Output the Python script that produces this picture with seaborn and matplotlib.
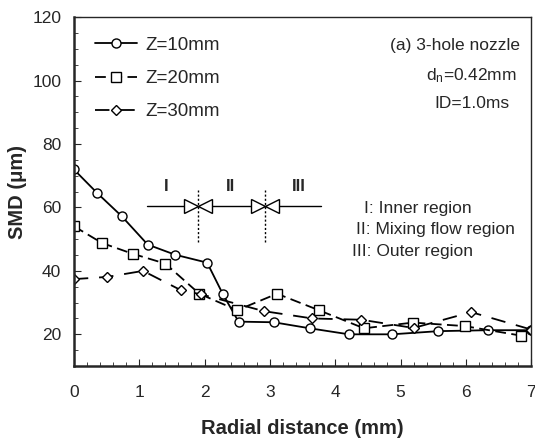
"""
SMD radial profiles for a 3-hole nozzle at three axial distances.
"""

import matplotlib
matplotlib.use("Agg")
import matplotlib.pyplot as plt
from matplotlib.ticker import MultipleLocator
import seaborn as sns

# ---------------------------------------------------------
# Data
# ---------------------------------------------------------
x_z10 = [0.0, 0.36, 0.73, 1.13, 1.55, 2.04, 2.28, 2.52, 3.06, 3.61, 4.21, 4.87, 5.58, 6.34, 7.0]
y_z10 = [72.0, 64.5, 57.3, 48.3, 45.1, 42.6, 32.7, 24.0, 23.8, 21.9, 20.0, 20.0, 21.0, 21.3, 21.3]

x_z20 = [0.0, 0.43, 0.90, 1.40, 1.92, 2.50, 3.11, 3.75, 4.44, 5.19, 5.98, 6.84]
y_z20 = [54.1, 48.8, 45.4, 42.3, 32.8, 27.6, 32.8, 27.6, 21.9, 23.7, 22.6, 19.6]

x_z30 = [0.0, 0.51, 1.06, 1.64, 1.95, 2.91, 3.65, 4.40, 5.20, 6.08, 7.0]
y_z30 = [37.4, 38.1, 40.0, 33.9, 32.6, 27.3, 25.0, 24.6, 22.0, 27.0, 21.5]

labels = ["Z=10mm", "Z=20mm", "Z=30mm"]

# region boundaries and label positions
boundaries = [1.9, 2.92]
region_names = ["I", "II", "III"]
region_label_x = [1.42, 2.40, 3.45]
region_text = ["I: Inner region", "II: Mixing flow region", "III: Outer region"]

# ---------------------------------------------------------
# Style
# ---------------------------------------------------------
sns.set_style("ticks")
plt.rcParams["font.family"] = ["Liberation Sans", "DejaVu Sans"]
plt.rcParams["mathtext.fontset"] = "custom"
plt.rcParams["mathtext.rm"] = "Liberation Sans"
plt.rcParams["mathtext.it"] = "Liberation Sans:italic"

fig = plt.figure(figsize=(5.35, 4.41), dpi=100)
ax = fig.add_axes([0.138, 0.170, 0.855, 0.791])

common = dict(ax=ax, color="black", lw=1.3, mfc="white", mec="black", mew=1.0)
sns.lineplot(x=x_z10, y=y_z10, marker="o", ms=6.5, linestyle="-", label=labels[0], **common)
sns.lineplot(x=x_z20, y=y_z20, marker="s", ms=6.5, linestyle=(0, (6, 3)), label=labels[1], **common)
sns.lineplot(x=x_z30, y=y_z30, marker="D", ms=5, linestyle=(0, (8, 6)), label=labels[2], **common)

# ---------------------------------------------------------
# Region sketch (I | II | III)
# ---------------------------------------------------------
ax.plot([1.12, 3.78], [60.4, 60.4], color="black", lw=1.0, zorder=3)
for b in boundaries:
    ax.plot([b, b], [49, 65.5], color="black", lw=1.0, ls=(0, (1.5, 1.5)), zorder=3)
    ax.plot([b - 0.107], [60.4], marker=">", ms=10, mfc="white", mec="black", mew=1.0, zorder=4)
    ax.plot([b + 0.107], [60.4], marker="<", ms=10, mfc="white", mec="black", mew=1.0, zorder=4)
for name, xr in zip(region_names, region_label_x):
    ax.text(xr, 66.5, name, ha="center", va="center", fontsize=12, fontweight="bold")

region_text_x = [0.635, 0.617, 0.608]
for i, (t, xt) in enumerate(zip(region_text, region_text_x)):
    ax.text(xt, 0.453 - i * 0.063, t, transform=ax.transAxes, fontsize=12.5,
            ha="left", va="center")

# nozzle info
ax.text(0.975, 0.92, "(a) 3-hole nozzle", transform=ax.transAxes, fontsize=12.5,
        ha="right", va="center")
ax.text(0.87, 0.832, r"d$_\mathregular{n}$=0.42mm", transform=ax.transAxes, fontsize=12.5,
        ha="center", va="center")
ax.text(0.87, 0.752, "ID=1.0ms", transform=ax.transAxes, fontsize=12.5,
        ha="center", va="center")

# ---------------------------------------------------------
# Axes
# ---------------------------------------------------------
ax.set_xlim(0, 7)
ax.set_ylim(10, 120)
ax.xaxis.set_major_locator(MultipleLocator(1))
ax.xaxis.set_minor_locator(MultipleLocator(0.2))
ax.yaxis.set_major_locator(MultipleLocator(20))
ax.yaxis.set_minor_locator(MultipleLocator(5))
ax.tick_params(which="both", direction="in", top=False, right=False, labelsize=12.5)
ax.tick_params(axis="x", which="major", length=5, pad=14)
ax.tick_params(axis="y", which="major", length=5, pad=9)
ax.tick_params(which="minor", length=3)
for side in ["left", "bottom"]:
    ax.spines[side].set_linewidth(1.8)
for side in ["top", "right"]:
    ax.spines[side].set_linewidth(1.0)

ax.set_xlabel("Radial distance (mm)", fontsize=14.5, fontweight="bold", labelpad=13)
ax.set_ylabel("SMD (\u03bcm)", fontsize=14.5, fontweight="bold", labelpad=4)

leg = ax.legend(loc="upper left", frameon=False, fontsize=13.5, handlelength=2.25,
                handletextpad=0.45, labelspacing=0.85, borderpad=0.4, borderaxespad=0,
                bbox_to_anchor=(0.03, 0.965))

fig.savefig("out.png", dpi=100)
